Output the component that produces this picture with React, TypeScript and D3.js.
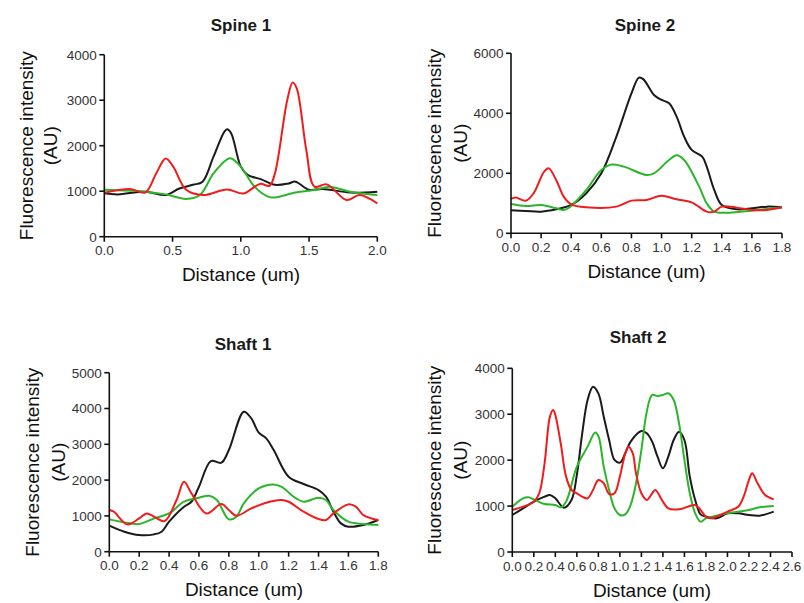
import React from "react";
import * as d3 from "d3";

// ---------- Spine 1 ----------
const s1BlackX = [0, 0.1, 0.3, 0.45, 0.55, 0.65, 0.72, 0.8, 0.88, 0.9, 0.93, 1.0, 1.05, 1.15, 1.25, 1.35, 1.4, 1.5, 1.6, 1.8, 2.0];
const s1BlackY = [953, 930, 990, 916, 1060, 1140, 1210, 1760, 2310, 2360, 2270, 1540, 1360, 1260, 1140, 1170, 1210, 1030, 1050, 970, 990];
const s1GreenX = [0, 0.3, 0.45, 0.6, 0.7, 0.8, 0.9, 0.93, 1.0, 1.1, 1.2, 1.25, 1.4, 1.55, 1.65, 1.8, 2.0];
const s1GreenY = [1030, 990, 930, 830, 915, 1390, 1700, 1720, 1540, 1100, 880, 860, 970, 1030, 1100, 990, 916];
const s1RedX = [0, 0.19, 0.3, 0.38, 0.45, 0.505, 0.6, 0.725, 0.9, 1.02, 1.14, 1.21, 1.25, 1.34, 1.38, 1.41, 1.48, 1.54, 1.63, 1.775, 1.87, 2.0];
const s1RedY = [968, 1050, 970, 1390, 1720, 1540, 1030, 915, 1040, 950, 1160, 1120, 1390, 3000, 3390, 3260, 1900, 1100, 1150, 806, 916, 733];

// ---------- Spine 2 ----------
const s2BlackX = [0, 0.1, 0.2, 0.3, 0.4, 0.5, 0.6, 0.7, 0.8, 0.85, 0.88, 0.95, 1.0, 1.05, 1.1, 1.15, 1.2, 1.27, 1.3, 1.35, 1.4, 1.5, 1.6, 1.7, 1.8];
const s2BlackY = [767, 744, 722, 800, 944, 1333, 2000, 3222, 4666, 5190, 5130, 4610, 4444, 4333, 3890, 3222, 2780, 2555, 2222, 1444, 944, 800, 833, 889, 867];
const s2GreenX = [0, 0.1, 0.2, 0.3, 0.35, 0.4, 0.5, 0.6, 0.67, 0.75, 0.9, 0.95, 1.05, 1.1, 1.15, 1.25, 1.3, 1.35, 1.45, 1.6, 1.8];
const s2GreenY = [978, 911, 944, 833, 778, 911, 1444, 2111, 2290, 2222, 1944, 2000, 2444, 2600, 2444, 1555, 1000, 722, 689, 755, 867];
const s2RedX = [0, 0.03, 0.1, 0.15, 0.22, 0.25, 0.3, 0.35, 0.4, 0.5, 0.7, 0.8, 0.9, 1.0, 1.1, 1.2, 1.3, 1.35, 1.4, 1.5, 1.6, 1.7, 1.8];
const s2RedY = [1144, 1190, 1089, 1333, 2055, 2166, 1778, 1222, 967, 867, 889, 1089, 1111, 1255, 1133, 1033, 722, 722, 889, 855, 778, 778, 867];

// ---------- Shaft 1 ----------
const h1BlackX = [0, 0.1, 0.2, 0.3, 0.35, 0.4, 0.5, 0.55, 0.6, 0.68, 0.75, 0.8, 0.9, 0.95, 1.0, 1.05, 1.1, 1.2, 1.3, 1.4, 1.45, 1.5, 1.55, 1.6, 1.7, 1.8];
const h1BlackY = [726, 559, 466, 484, 559, 838, 1257, 1396, 1815, 2532, 2486, 2840, 3910, 3724, 3324, 3165, 2840, 2095, 1890, 1722, 1536, 1117, 791, 698, 745, 884];
const h1GreenX = [0, 0.1, 0.2, 0.3, 0.4, 0.5, 0.6, 0.67, 0.72, 0.8, 0.85, 0.9, 1.0, 1.1, 1.15, 1.25, 1.3, 1.4, 1.45, 1.5, 1.6, 1.7, 1.8];
const h1GreenY = [903, 819, 773, 931, 1070, 1396, 1508, 1564, 1443, 903, 977, 1350, 1769, 1880, 1815, 1490, 1396, 1508, 1443, 1164, 838, 773, 745];
const h1RedX = [0, 0.03, 0.12, 0.2, 0.25, 0.3, 0.37, 0.45, 0.5, 0.55, 0.65, 0.75, 0.8, 0.85, 0.95, 1.05, 1.15, 1.2, 1.3, 1.4, 1.45, 1.5, 1.6, 1.65, 1.7, 1.8];
const h1RedY = [1164, 1117, 763, 931, 1070, 977, 856, 1443, 1955, 1629, 1070, 1331, 1164, 1005, 1210, 1369, 1443, 1396, 1117, 912, 884, 1070, 1322, 1257, 1024, 884];

// ---------- Shaft 2 ----------
const h2BlackX = [0, 0.1, 0.2, 0.3, 0.35, 0.4, 0.48, 0.55, 0.6, 0.65, 0.7, 0.75, 0.8, 0.85, 0.9, 0.95, 1.0, 1.05, 1.1, 1.2, 1.25, 1.3, 1.35, 1.4, 1.45, 1.5, 1.55, 1.6, 1.65, 1.7, 1.75, 1.8, 1.9, 2.0, 2.1, 2.2, 2.3, 2.43];
const h2BlackY = [806, 951, 1096, 1205, 1241, 1169, 965, 1132, 1677, 2584, 3310, 3600, 3455, 2947, 2439, 2004, 1946, 2149, 2403, 2635, 2584, 2403, 2076, 1822, 2076, 2439, 2620, 2439, 1641, 1133, 820, 770, 733, 842, 842, 806, 791, 878];
const h2GreenX = [0, 0.1, 0.15, 0.2, 0.3, 0.4, 0.45, 0.5, 0.6, 0.7, 0.77, 0.8, 0.85, 0.9, 0.95, 1.0, 1.05, 1.1, 1.15, 1.2, 1.25, 1.3, 1.35, 1.4, 1.45, 1.5, 1.55, 1.6, 1.65, 1.7, 1.75, 1.8, 1.9, 2.0, 2.1, 2.2, 2.3, 2.43];
const h2GreenY = [987, 1169, 1190, 1147, 1045, 1024, 973, 1096, 1859, 2294, 2600, 2526, 1859, 1350, 951, 806, 820, 1024, 1496, 2222, 3056, 3420, 3398, 3420, 3456, 3310, 2802, 2004, 1278, 842, 661, 733, 791, 842, 878, 915, 973, 1002];
const h2RedX = [0, 0.1, 0.2, 0.25, 0.3, 0.35, 0.38, 0.4, 0.45, 0.5, 0.55, 0.6, 0.65, 0.7, 0.75, 0.8, 0.85, 0.9, 0.95, 1.0, 1.05, 1.08, 1.12, 1.15, 1.2, 1.25, 1.3, 1.33, 1.4, 1.45, 1.55, 1.65, 1.7, 1.75, 1.8, 1.85, 1.9, 2.0, 2.1, 2.15, 2.2, 2.23, 2.28, 2.35, 2.43];
const h2RedY = [915, 987, 1096, 1278, 1931, 2948, 3093, 2984, 2367, 1641, 1350, 1278, 1205, 1169, 1350, 1568, 1496, 1263, 1278, 1641, 2149, 2294, 2149, 1713, 1278, 1133, 1278, 1350, 1096, 951, 929, 1002, 1024, 915, 770, 733, 770, 878, 987, 1205, 1568, 1713, 1496, 1241, 1147];

// ---------- tick values ----------
const s1XTicks = [0, 0.5, 1.0, 1.5, 2.0];
const s1YTicks = [0, 1000, 2000, 3000, 4000];
const s2XTicks = [0, 0.2, 0.4, 0.6, 0.8, 1.0, 1.2, 1.4, 1.6, 1.8];
const s2YTicks = [0, 2000, 4000, 6000];
const h1XTicks = [0, 0.2, 0.4, 0.6, 0.8, 1.0, 1.2, 1.4, 1.6, 1.8];
const h1YTicks = [0, 1000, 2000, 3000, 4000, 5000];
const h2XTicks = [0, 0.2, 0.4, 0.6, 0.8, 1.0, 1.2, 1.4, 1.6, 1.8, 2.0, 2.2, 2.4, 2.6];
const h2YTicks = [0, 1000, 2000, 3000, 4000];

const titles = ["Spine 1", "Spine 2", "Shaft 1", "Shaft 2"];
const xTitle = "Distance (um)";
const yTitle1 = "Fluorescence intensity";
const yTitle2 = "(AU)";

const BLACK = "#1a1a1a";
const GREEN = "#2bb52b";
const RED = "#f01c1c";
const FONT = "'Liberation Sans', Arial, sans-serif";

type Series = { x: number[]; y: number[]; color: string };
type PanelCfg = {
  title: string;
  x0: number; x1: number; yTop: number; yBot: number;
  xMax: number; yMax: number;
  xTicks: number[]; yTicks: number[];
  series: Series[];
  titleX: number; titleY: number;
  xLabX: number; xLabY: number;
  yLab1X: number; yLab2X: number;
};

const panels: PanelCfg[] = [
  {
    title: titles[0], x0: 104.3, x1: 377.3, yTop: 54.7, yBot: 236.7, xMax: 2, yMax: 4000,
    xTicks: s1XTicks, yTicks: s1YTicks,
    series: [
      { x: s1BlackX, y: s1BlackY, color: BLACK },
      { x: s1GreenX, y: s1GreenY, color: GREEN },
      { x: s1RedX, y: s1RedY, color: RED },
    ],
    titleX: 241, titleY: 31, xLabX: 241, xLabY: 280.5, yLab1X: 33, yLab2X: 57,
  },
  {
    title: titles[1], x0: 511, x1: 782, yTop: 53.3, yBot: 233.3, xMax: 1.8, yMax: 6000,
    xTicks: s2XTicks, yTicks: s2YTicks,
    series: [
      { x: s2BlackX, y: s2BlackY, color: BLACK },
      { x: s2GreenX, y: s2GreenY, color: GREEN },
      { x: s2RedX, y: s2RedY, color: RED },
    ],
    titleX: 645, titleY: 31, xLabX: 646.5, xLabY: 277.5, yLab1X: 441, yLab2X: 467,
  },
  {
    title: titles[2], x0: 109.3, x1: 378.3, yTop: 372.7, yBot: 551.7, xMax: 1.8, yMax: 5000,
    xTicks: h1XTicks, yTicks: h1YTicks,
    series: [
      { x: h1BlackX, y: h1BlackY, color: BLACK },
      { x: h1GreenX, y: h1GreenY, color: GREEN },
      { x: h1RedX, y: h1RedY, color: RED },
    ],
    titleX: 243, titleY: 350, xLabX: 244, xLabY: 595.5, yLab1X: 39, yLab2X: 65,
  },
  {
    title: titles[3], x0: 512.3, x1: 792, yTop: 368.3, yBot: 552, xMax: 2.6, yMax: 4000,
    xTicks: h2XTicks, yTicks: h2YTicks,
    series: [
      { x: h2BlackX, y: h2BlackY, color: BLACK },
      { x: h2GreenX, y: h2GreenY, color: GREEN },
      { x: h2RedX, y: h2RedY, color: RED },
    ],
    titleX: 638, titleY: 343, xLabX: 652, xLabY: 596.5, yLab1X: 441, yLab2X: 467,
  },
];

function Panel({ p }: { p: PanelCfg }) {
  const xs = d3.scaleLinear().domain([0, p.xMax]).range([p.x0, p.x1]);
  const ys = d3.scaleLinear().domain([0, p.yMax]).range([p.yBot, p.yTop]);
  const line = d3
    .line<[number, number]>()
    .x((d) => xs(d[0]))
    .y((d) => ys(d[1]))
    .curve(d3.curveCatmullRom.alpha(0.5));
  const fmtX = d3.format(".1f");
  const yMid = (p.yTop + p.yBot) / 2;
  return (
    <g>
      <text x={p.titleX} y={p.titleY} textAnchor="middle" fontFamily={FONT} fontWeight="bold" fontSize={17} fill="#1a1a1a">
        {p.title}
      </text>
      {p.series.map((s, i) => (
        <path
          key={i}
          d={line(s.x.map((x, j) => [x, s.y[j]] as [number, number])) || ""}
          fill="none"
          stroke={s.color}
          strokeWidth={2}
          strokeLinejoin="round"
        />
      ))}
      {/* axes */}
      <line x1={p.x0} x2={p.x0} y1={p.yTop} y2={p.yBot} stroke="#111" strokeWidth={1.6} />
      <line x1={p.x0} x2={p.x1} y1={p.yBot} y2={p.yBot} stroke="#111" strokeWidth={1.6} />
      {p.yTicks.map((t) => (
        <g key={"y" + t}>
          <line x1={p.x0 - 5} x2={p.x0} y1={ys(t)} y2={ys(t)} stroke="#111" strokeWidth={1.6} />
          <text x={p.x0 - 7.5} y={ys(t) + 4.8} textAnchor="end" fontFamily={FONT} fontSize={13.5} fill="#333">
            {String(t)}
          </text>
        </g>
      ))}
      {p.xTicks.map((t) => (
        <g key={"x" + t}>
          <line x1={xs(t)} x2={xs(t)} y1={p.yBot} y2={p.yBot + 5} stroke="#111" strokeWidth={1.6} />
          <text x={xs(t)} y={p.yBot + 18.5} textAnchor="middle" fontFamily={FONT} fontSize={13.5} fill="#333">
            {fmtX(t)}
          </text>
        </g>
      ))}
      <text x={p.xLabX} y={p.xLabY} textAnchor="middle" fontFamily={FONT} fontSize={19} fill="#111">
        {xTitle}
      </text>
      <text transform={`translate(${p.yLab1X},${yMid}) rotate(-90)`} textAnchor="middle" fontFamily={FONT} fontSize={19} fill="#111">
        {yTitle1}
      </text>
      <text transform={`translate(${p.yLab2X},${yMid}) rotate(-90)`} textAnchor="middle" fontFamily={FONT} fontSize={19} fill="#111">
        {yTitle2}
      </text>
    </g>
  );
}

export default function App() {
  return (
    <svg
      width={804}
      height={603}
      viewBox="0 0 804 603"
      style={{ position: "absolute", left: 0, top: 0, background: "#fff" }}
    >
      <rect width={804} height={603} fill="#fff" />
      {panels.map((p, i) => (
        <Panel key={i} p={p} />
      ))}
    </svg>
  );
}
